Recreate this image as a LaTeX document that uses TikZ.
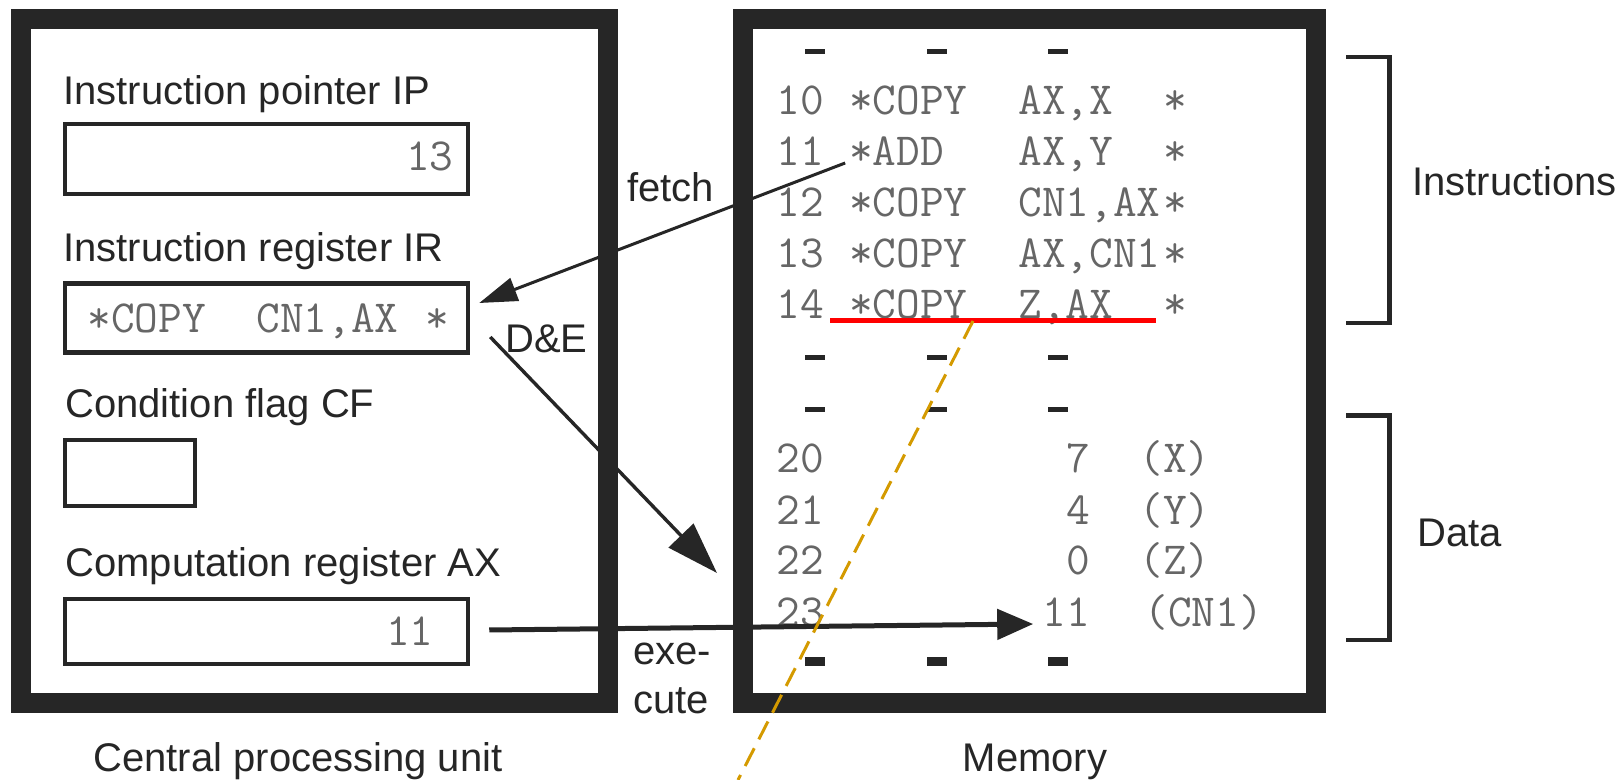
\documentclass[tikz,border=0pt]{standalone}
\usepackage{fontspec}
\setmainfont{Liberation Sans}
\usetikzlibrary{arrows.meta}
\definecolor{framec}{RGB}{38,38,38}
\definecolor{goldc}{RGB}{212,154,0}
\begin{document}
\begin{tikzpicture}[x=0.5pt,y=-0.5pt,
  frame/.style={draw=framec, line width=10pt, inner sep=0pt},
  reg/.style={draw=framec, line width=2.25pt, inner sep=0pt},
  lab/.style={font=\fontsize{20}{24}\selectfont, text=black!85, inner sep=0pt, anchor=base west},
  mono/.style={font=\ttfamily\fontsize{23}{27}\selectfont, text=black!60, inner sep=0pt, anchor=base west},
  arr/.style={draw=framec, line width=1.5pt, -{Triangle[length=19pt,width=12pt]}},
  arrb/.style={draw=framec, line width=1.7pt, -{Triangle[length=26pt,width=17pt]}},
  arrc/.style={draw=framec, line width=2.5pt, -{Triangle[length=18pt,width=15pt]}},
  dashmark/.style={fill=framec},
  bracket/.style={draw=framec, line width=2.25pt},
]
\useasboundingbox (0,0) rectangle (1624,780);

% frames
\node[frame, minimum width=293.5pt, minimum height=342pt] (cpu) at (314.5,361) {};
\node[frame, minimum width=286.5pt, minimum height=342pt] (mem) at (1029.5,361) {};

% registers
\node[reg, minimum width=201.5pt, minimum height=35pt] (ip) at (266.5,159) {};
\node[reg, minimum width=201.5pt, minimum height=34.5pt] (ir) at (266.5,318) {};
\node[reg, minimum width=65pt, minimum height=33pt] (cf) at (130,473) {};
\node[reg, minimum width=201.5pt, minimum height=32.5pt] (ax) at (266.5,631.5) {};

% CPU labels
\node[lab] (ipl) at (63,105) {Instruction pointer IP};
\node[lab] (irl) at (63,262) {Instruction register IR};
\node[lab] (cfl) at (65,418) {Condition flag CF};
\node[lab] (axl) at (65,577) {Computation register AX};
\node[lab, anchor=base] (cpul) at (298,771) {Central processing unit};
\node[lab, anchor=base] (meml) at (1035,771) {Memory};

% register contents
\node[mono, anchor=base east] (ipv) at (454,171) {13};
\node[mono, anchor=base east] (axv) at (434,646) {11};
\node[mono] (ir1) at (87,333) {*COPY};
\node[mono] (ir2) at (256,333) {CN1,AX};
\node[mono] (ir3) at (425,333) {*};

% memory instructions
\node[mono] (r10) at (776,115) {10};
\node[mono] (r10o) at (848.6,115) {*COPY};
\node[mono] (r10a) at (1018,115) {AX,X};
\node[mono] (r10e) at (1163.2,115) {*};
\node[mono] (r11) at (776,166) {11};
\node[mono] (r11o) at (848.6,166) {*ADD};
\node[mono] (r11a) at (1018,166) {AX,Y};
\node[mono] (r11e) at (1163.2,166) {*};
\node[mono] (r12) at (776,217) {12};
\node[mono] (r12o) at (848.6,217) {*COPY};
\node[mono] (r12a) at (1018,217) {CN1,AX};
\node[mono] (r12e) at (1163.2,217) {*};
\node[mono] (r13) at (776,268) {13};
\node[mono] (r13o) at (848.6,268) {*COPY};
\node[mono] (r13a) at (1018,268) {AX,CN1};
\node[mono] (r13e) at (1163.2,268) {*};
\node[mono] (r14) at (776,319) {14};
\node[mono] (r14o) at (848.6,319) {*COPY};
\node[mono] (r14a) at (1018,319) {Z,AX};
\node[mono] (r14e) at (1163.2,319) {*};

% memory data
\node[mono] (r20) at (776,473) {20};
\node[mono] (r20v) at (1066.4,473) {7};
\node[mono] (r20n) at (1139,473) {(X)};
\node[mono] (r21) at (776,525) {21};
\node[mono] (r21v) at (1066.4,525) {4};
\node[mono] (r21n) at (1139,525) {(Y)};
\node[mono] (r22) at (776,575) {22};
\node[mono] (r22v) at (1066.4,575) {0};
\node[mono] (r22n) at (1139,575) {(Z)};
\node[mono] (r23) at (776,627) {23};
\node[mono] (r23v) at (1042.2,627) {11};
\node[mono] (r23n) at (1144,627) {(CN1)};

% ellipsis dashes
\foreach \yy/\tt in {52/5, 358/5, 410/5, 662/9}
  \foreach \xx in {815,937,1058}
    \fill[dashmark] (\xx-10,\yy-\tt/2) rectangle (\xx+10,\yy+\tt/2);

% brackets
\draw[bracket] (1346,57) -- (1389.5,57) -- (1389.5,323) -- (1346,323);
\draw[bracket] (1346,415.5) -- (1389.5,415.5) -- (1389.5,640) -- (1346,640);
\node[lab] (instl) at (1412,196) {Instructions};
\node[lab] (datal) at (1417,547) {Data};

% fetch
\coordinate (fs) at ([shift={(21,-3)}]r11.base east);
\coordinate (ft) at ([shift={(9,-15)}]ir.east);
\draw[arr] (fs) -- (ft);
\node[lab] (fetchl) at (627,202) {fetch};

% decode & execute
\coordinate (ds) at ([shift={(20,19)}]ir.east);
\coordinate (dt) at (717,573);
\draw[arrb] (ds) -- (dt);
\node[lab] (del) at (505,353) {D\&E};

% execute
\coordinate (es) at ([shift={(19,-1.5)}]ax.east);
\coordinate (et) at ([shift={(-9,-3)}]r23v.base west);
\draw[arrc] (es) -- (et);
\node[lab] (exe1) at (633,665) {exe-};
\node[lab] (exe2) at (633,713) {cute};

% highlight
\coordinate (rl) at (830,321);
\coordinate (rr) at (1156,321);
\draw[red, line width=2.5pt] (rl) -- (rr);
\coordinate (o1) at (973,321);
\coordinate (o2) at (738,780);
\draw[goldc, line width=1.5pt, dash pattern=on 10pt off 5pt] (o1) -- (o2);
\end{tikzpicture}
\end{document}
